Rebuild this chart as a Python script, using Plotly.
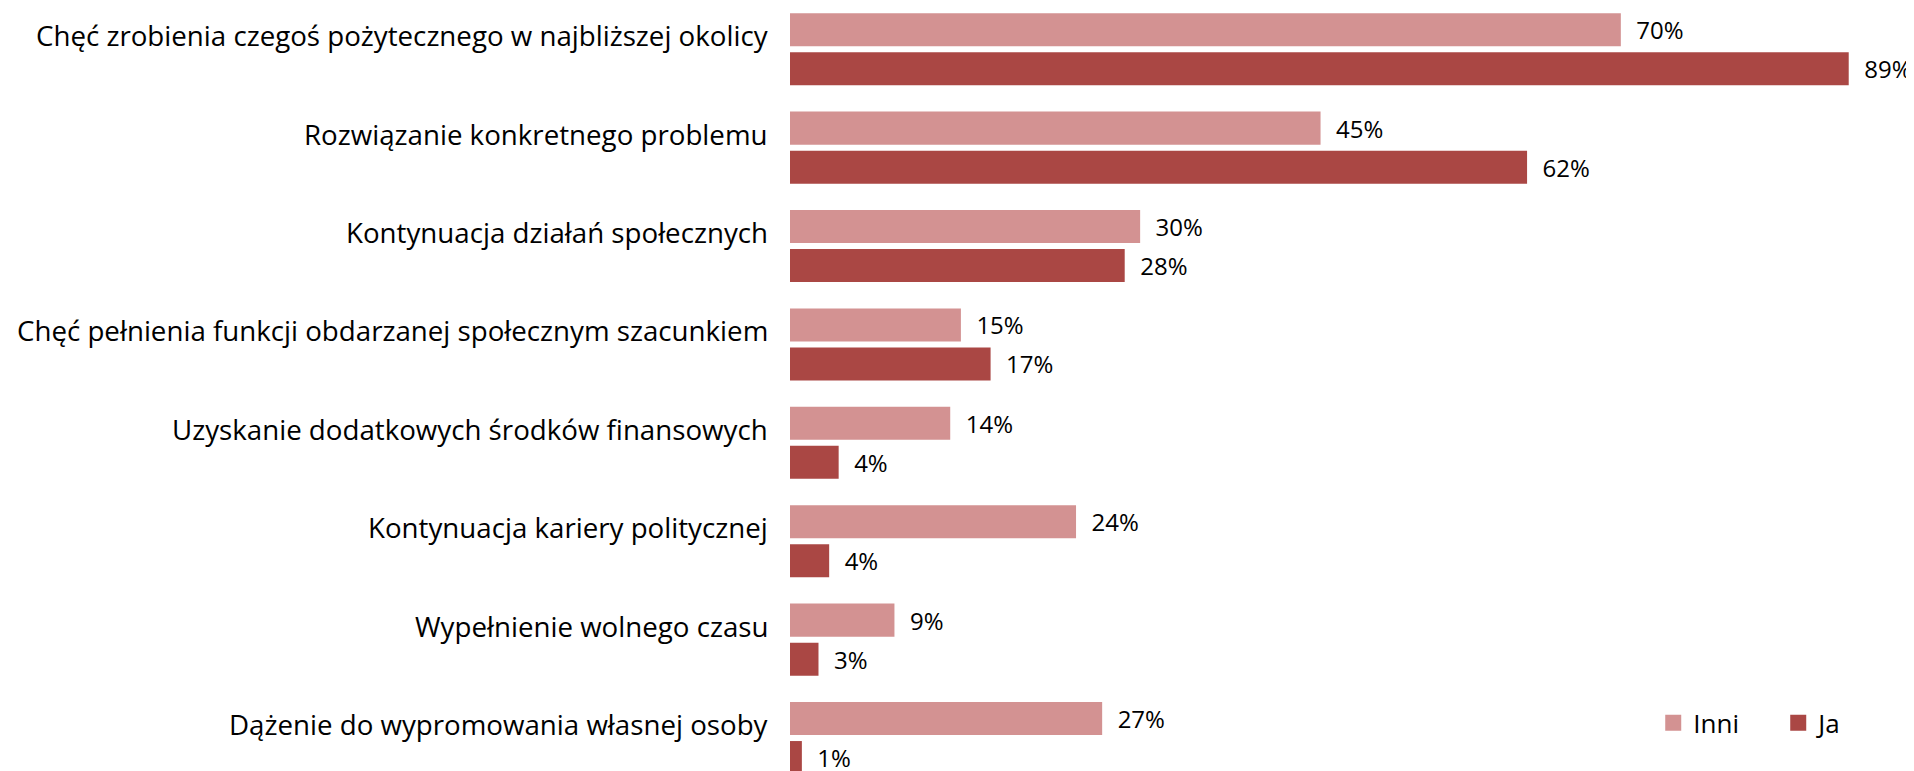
import plotly.graph_objects as go

categories = [
    "Chęć zrobienia czegoś pożytecznego w najbliższej okolicy",
    "Rozwiązanie konkretnego problemu",
    "Kontynuacja działań społecznych",
    "Chęć pełnienia funkcji obdarzanej społecznym szacunkiem",
    "Uzyskanie dodatkowych środków finansowych",
    "Kontynuacja kariery politycznej",
    "Wypełnienie wolnego czasu",
    "Dążenie do wypromowania własnej osoby",
]
inni_values = [70.0, 44.7, 29.5, 14.4, 13.5, 24.1, 8.8, 26.3]
ja_values = [89.2, 62.1, 28.2, 16.9, 4.1, 3.3, 2.4, 1.0]
inni_labels = ["70%", "45%", "30%", "15%", "14%", "24%", "9%", "27%"]
ja_labels = ["89%", "62%", "28%", "17%", "4%", "4%", "3%", "1%"]
series_names = ["Inni", "Ja"]
series_colors = ["#D39292", "#AA4744"]

FONT = "Open Sans, Carlito, Calibri, sans-serif"
PAD = "\u00a0\u00a0"

fig = go.Figure()
for name, color, vals, labels in zip(series_names, series_colors,
                                     [inni_values, ja_values],
                                     [inni_labels, ja_labels]):
    fig.add_trace(go.Bar(
        name=name, y=categories, x=vals, orientation="h",
        marker=dict(color=color, line=dict(width=0)),
        text=[PAD + t for t in labels], textposition="outside",
        textfont=dict(family=FONT, size=24, color="#000000"), cliponaxis=False,
        hoverinfo="skip", showlegend=False,
    ))

# legend entries with larger square swatches
for name, color in zip(series_names, series_colors):
    fig.add_trace(go.Scatter(
        name=name, x=[None], y=[None], mode="markers",
        marker=dict(symbol="square", size=18, color=color, line=dict(width=0)),
        showlegend=True, hoverinfo="skip",
    ))

for c in categories:
    fig.add_annotation(
        x=0, y=c, xref="x", yref="y", text=c, showarrow=False,
        xanchor="right", yanchor="middle", xshift=-20, yshift=14,
        font=dict(family=FONT, size=27.7, color="#000000"),
    )

fig.update_layout(
    width=1906, height=763,
    margin=dict(l=782, r=0, t=0, b=0, autoexpand=False),
    paper_bgcolor="white", plot_bgcolor="white",
    barmode="group", bargap=0.207, bargroupgap=0.154,
    showlegend=True,
    legend=dict(
        orientation="h", x=0.768, y=0.063, xanchor="left", yanchor="middle",
        font=dict(family=FONT, size=26, color="#000000"),
        bgcolor="rgba(0,0,0,0)", itemwidth=30, traceorder="normal",
        entrywidth=80,
    ),
    font=dict(family=FONT),
)
fig.update_xaxes(range=[0, 94.7], visible=False, showgrid=False, zeroline=False)
fig.update_yaxes(type="category", categoryorder="array", categoryarray=categories,
                 range=[7.335, -0.419], showticklabels=False,
                 showgrid=False, zeroline=False, showline=False, ticks="")

fig.write_html("out.html")
